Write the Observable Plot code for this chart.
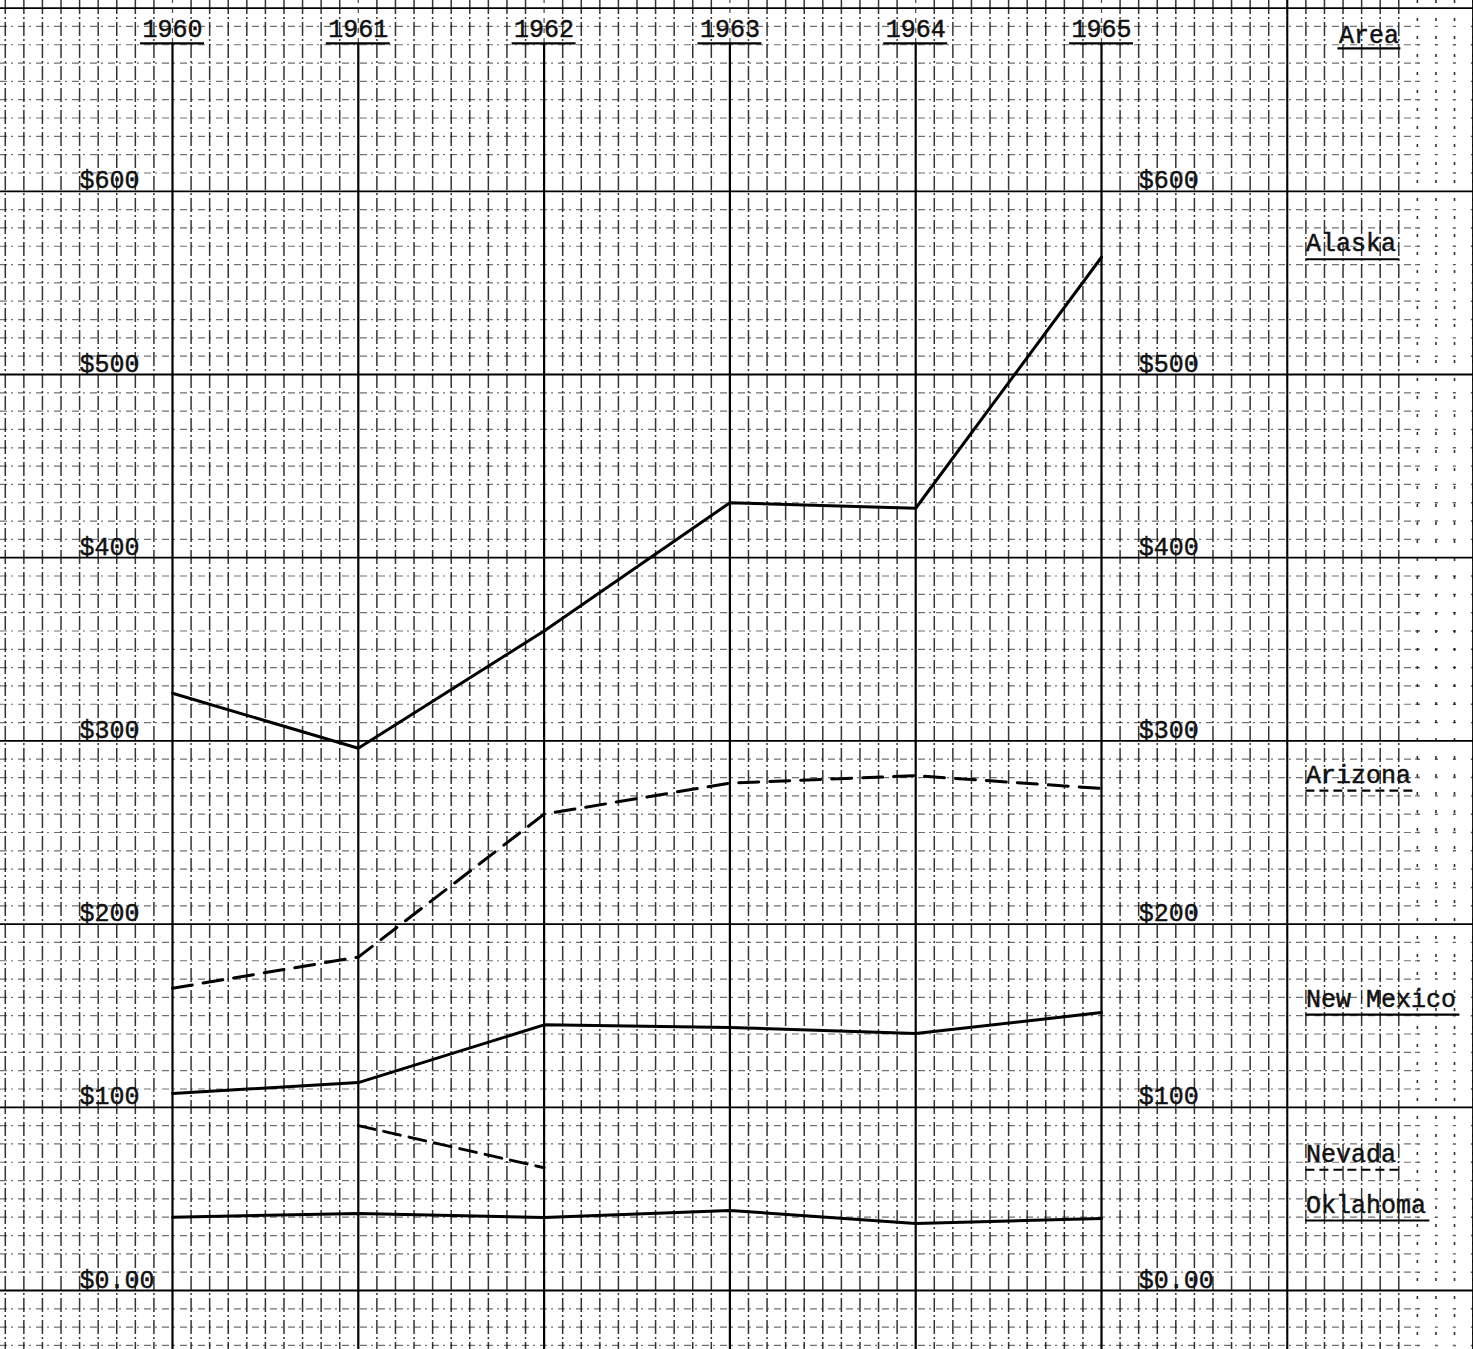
<!DOCTYPE html>
<html><head><meta charset="utf-8">
<script src="https://cdn.jsdelivr.net/npm/d3@7"></script>
<script src="https://cdn.jsdelivr.net/npm/@observablehq/plot@0.6"></script>
<style>html,body{margin:0;padding:0;background:#fff;overflow:hidden}</style>
</head><body><div id="chart"></div>
<script>
// ---- data ----
const years = [1960, 1961, 1962, 1963, 1964, 1965];
const alaska = [326, 296, 360, 430, 427, 564];
const arizona = [165, 182, 260, 277, 281, 274];
const newMexico = [107.5, 113.5, 145, 143.6, 140.3, 151.7];
const nevadaYears = [1961, 1962];
const nevada = [90, 67];
const oklahoma = [40, 42, 39.8, 43.7, 36.6, 39.3];
const dollarTicks = [0, 100, 200, 300, 400, 500, 600];
const dollarLabels = ["$0.00", "$100", "$200", "$300", "$400", "$500", "$600"];
const areaTitle = "Area";
const areaNames = ["Alaska", "Arizona", "New Mexico", "Nevada", "Oklahoma"];

// ---- layout ----
const W = 1473, H = 1349;
const pxPerYear = 185.8, x1960 = 172;
const pxPerDollar = 1.832, y0px = 1290;
const xDomain = [1960 - x1960 / pxPerYear, 1960 + (W - x1960) / pxPerYear];
const yDomain = [(y0px - H) / pxPerDollar, y0px / pxPerDollar];
const FONT = "Liberation Mono, Courier New, monospace";
const FS = 25, CHAR = 15;
const px2yr = p => p / pxPerYear;
const px2usd = p => p / pxPerDollar;

const seriesValues = [alaska, arizona, newMexico, nevada, oklahoma];
const seriesYears = [years, years, years, nevadaYears, years];
const seriesDash = [null, "20,11", null, "17,9", null];
const labelDash = [null, "9,5", null, "9,5", null];
const series = areaNames.map((name, i) => ({
  name,
  dash: seriesDash[i],
  udash: labelDash[i],
  rows: seriesYears[i].map((yr, j) => ({area: name, year: yr, value: seriesValues[i][j]}))
}));

// grid ticks (graph paper: 10 minor divisions per year and per $100)
const minorX = d3.range(Math.ceil(xDomain[0] * 10), Math.floor(xDomain[1] * 10) + 1).map(t => t / 10);
const majorX = d3.range(Math.ceil(xDomain[0]), Math.floor(xDomain[1]) + 1);
const minorY = d3.range(Math.ceil(yDomain[0] / 10), Math.floor(yDomain[1] / 10) + 1).filter(t => t % 10 !== 0).map(t => t * 10);
const majorY = d3.range(Math.ceil(yDomain[0] / 100), Math.floor(yDomain[1] / 100) + 1).map(t => t * 100);
const fadeX = 1966.7; // paper past here is only faintly printed

const headerY = 684;          // baseline of the year header row
const leftLabelX = 1959.5;
const rightLabelX = 1965.2;
const legendX = 1966.1;

const legendRows = series.map(s => ({name: s.name, dash: s.dash, udash: s.udash, value: s.rows[s.rows.length - 1].value}));

const marks = [
  // graph paper: verticals
  Plot.ruleX(minorX.filter(t => t < fadeX && !years.includes(Math.round(t * 10) / 10)), {stroke: "#111", strokeWidth: 1.5, strokeDasharray: "14,3,2,3", strokeOpacity: 0.85}),
  Plot.ruleX(minorX.filter(t => t >= fadeX), {stroke: "#111", strokeWidth: 1.6, strokeDasharray: "3,15", strokeOpacity: 0.85}),
  // graph paper: horizontals
  Plot.ruleY(minorY, {x1: xDomain[0], x2: fadeX, stroke: "#111", strokeWidth: 1.2, strokeDasharray: "7,4,2,5", strokeOpacity: 0.6}),
  Plot.ruleY(minorY, {x1: fadeX, x2: xDomain[1], stroke: "#111", strokeWidth: 1.4, strokeDasharray: "3,15", strokeOpacity: 0.7}),
  Plot.ruleY(majorY, {x1: xDomain[0], x2: xDomain[1], stroke: "#000", strokeWidth: 1.8}),
  // major verticals: labelled years start below their header underline
  Plot.ruleX(majorX.filter(t => !years.includes(t)), {stroke: "#000", strokeWidth: 2}),
  Plot.ruleX(years, {y1: yDomain[0], y2: headerY - px2usd(6), stroke: "#000", strokeWidth: 2.2}),
  Plot.ruleX(years, {y1: headerY - px2usd(6), y2: yDomain[1], stroke: "#111", strokeWidth: 1.3, strokeDasharray: "5,5", strokeOpacity: 0.7}),
];

// data lines
for (const s of series) {
  marks.push(Plot.line(s.rows, {x: "year", y: "value", stroke: "#000", strokeWidth: 3,
    strokeDasharray: s.dash || undefined, strokeLinejoin: "miter"}));
}

// text style: typewriter
const txt = {fontFamily: FONT, fontSize: FS, fill: "#111", lineAnchor: "bottom", stroke: "#111", strokeWidth: 0.5};
marks.push(
  Plot.text(years, {x: d => d, y: headerY, text: d => String(d), textAnchor: "middle", ...txt}),
  Plot.ruleY(years, {x1: d => d - px2yr(32), x2: d => d + px2yr(32), y: headerY, dy: 6, stroke: "#000", strokeWidth: 2.2}),
  Plot.text([areaTitle], {x: legendX + px2yr(33), y: headerY, dy: 6, text: d => d, textAnchor: "start", ...txt}),
  Plot.ruleY([areaTitle], {x1: legendX + px2yr(32), x2: d => legendX + px2yr(35 + d.length * CHAR), y: headerY, dy: 11, stroke: "#000", strokeWidth: 2.2})
);

// dollar labels, both sides
marks.push(
  Plot.text(dollarTicks, {x: leftLabelX, y: d => d, dy: -3, text: (d, i) => dollarLabels[i], textAnchor: "start", ...txt}),
  Plot.text(dollarTicks, {x: rightLabelX, y: d => d, dy: -3, text: (d, i) => dollarLabels[i], textAnchor: "start", ...txt})
);

// legend (area names beside their line ends, underlined in the line's style)
marks.push(
  Plot.text(legendRows, {x: legendX, y: "value", dy: -6, text: "name", textAnchor: "start", ...txt})
);
for (const r of legendRows) {
  marks.push(Plot.ruleY([r], {x1: legendX, x2: d => legendX + px2yr(d.name.length * CHAR + 4), y: "value", dy: 2,
    stroke: "#000", strokeWidth: 2.2, strokeDasharray: r.udash || undefined}));
}

const chart = Plot.plot({
  width: W, height: H,
  margin: 0, marginTop: 0, marginRight: 0, marginBottom: 0, marginLeft: 0,
  x: {domain: xDomain, axis: null},
  y: {domain: yDomain, axis: null},
  style: {background: "#fff"},
  marks
});
document.getElementById("chart").appendChild(chart);
</script>
</body></html>
